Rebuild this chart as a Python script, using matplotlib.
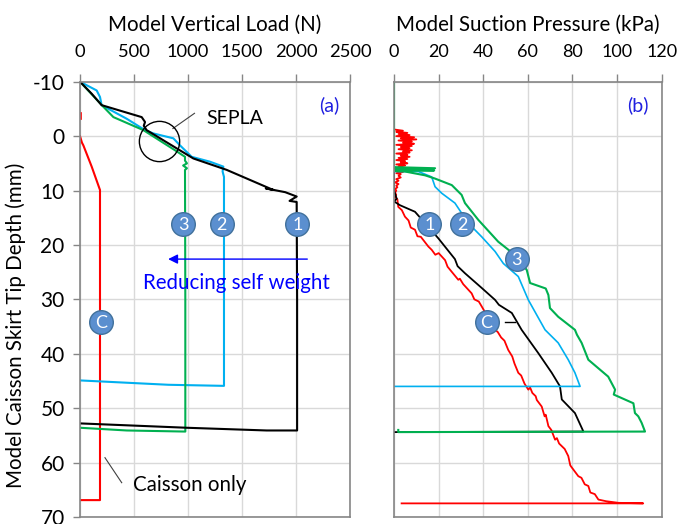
import matplotlib.pyplot as plt

plt.rcParams['font.family'] = ['Lato', 'DejaVu Sans']
plt.rcParams['axes.unicode_minus'] = False

# ---- (a) vertical load vs skirt tip depth ----
load_1 = [0, 108, 200, 571, 602, 590, 617, 1049, 1358, 1790, 1720, 1900, 2006, 1940, 2006, 2010, 2010, 1728, 988, 0]
depth_1 = [-10, -7.8, -5.7, -3.5, -2.6, -1.9, -1.1, 4.1, 6.2, 9.9, 9.6, 10.3, 11.1, 11.9, 12.1, 30, 54.1, 54.1, 53.6, 52.8]

load_2 = [0, 154, 185, 200, 432, 602, 679, 864, 926, 1034, 1204, 1327, 1320, 1333, 1333, 818, 0]
depth_2 = [-10, -8.4, -7.2, -5.7, -3.2, -1.1, -0.5, 0.4, 1.7, 3.8, 4.7, 5.6, 6.5, 7.5, 45.9, 45.7, 44.9]

load_3 = [0, 216, 309, 587, 880, 972, 972, 990, 955, 990, 972, 975, 975, 432, 0]
load_3_depth = [-10, -5.4, -3.5, -1.1, 2.6, 3.8, 4.5, 5.0, 5.4, 5.9, 6.2, 30, 54.3, 54.1, 53.6]

load_c = [0, 12, 18, 31, 108, 185, 185, 0]
depth_c = [0, 0.8, 1.2, 1.7, 5.6, 9.9, 66.9, 66.9]
load_c_blip = [5, 5]
depth_c_blip = [-4.2, -3.2]

# ---- (b) suction pressure vs skirt tip depth ----
suc_1 = [0, 0, 1.2, 0, 2.7, 9.4, 13.9, 19.9, 27.3, 28.5, 31.8, 39.3, 45.3, 47.0, 52.8, 57.2,
         64.7, 70.7, 74.4, 75.2, 81.1, 84.9, 0]
sdepth_1 = [-3, 10, 11.5, 12, 12.7, 13.9, 16.0, 18.8, 22.6, 23.9, 25.2, 27.9, 30.1, 31.0, 32.5, 35.6,
            39.9, 43.5, 46.0, 48.4, 50.9, 54.3, 54.4]

suc_2 = [0, 0.4, 10.9, 16.9, 18.4, 21.4, 27.3, 33.3, 39.3, 45.3, 49.0, 55.7, 60.2,
         67.7, 73.6, 78.1, 81.1, 83.4, 0]
sdepth_2 = [6.2, 6.5, 6.5, 7.5, 9.3, 10.5, 12.3, 16.0, 18.5, 21.2, 23.4, 25.8, 30.1,
            35.6, 38.0, 41.1, 43.5, 46.0, 46.0]

suc_3 = [0, 0, 0.4, 18.4, 0.4, 18.0, 0.4, 4.9, 13.9, 18.4, 25.9, 30.3, 31.0, 31.8, 37.8,
         46.7, 55.0, 59.5, 61.0, 68.0, 69.2, 69.9, 73.6, 81.1, 82.0, 84.1, 87.1, 96.0,
         99.1, 98.5, 107.3, 108.0, 109.5, 111.0, 112.5, 1.9, 1.9]
sdepth_3 = [-10, 5.5, 5.7, 5.9, 6.1, 6.3, 6.4, 6.5, 7.2, 7.8, 9.0, 10.8, 11.5, 12.3, 15.4,
            19.4, 22.1, 24.6, 27.0, 28.0, 29.2, 31.6, 33.2, 35.6, 36.5, 38.0, 41.1, 44.2,
            46.6, 47.5, 49.1, 50.9, 51.5, 52.7, 54.3, 54.4, 54.0]

suc_c = [0.5, 4, 1, 6, 2, 7, 1, 9, 3, 10, 2, 8, 4, 9, 1, 8, 3, 7, 2, 8, 4, 7, 1, 6, 3, 7,
         2, 6, 1, 5, 3, 6, 1, 5, 2, 4, 1, 5, 2, 4, 1, 3, 2, 3, 1, 2, 0.5, 2, 1, 1.5, 0.5,
         1, 0.5, 1, 0.5, 1.5,
         1.9, 3.5, 4.9, 6.5, 7.5, 9.4, 10.5, 12.0, 15.4, 16.9, 18.5, 20.0, 22.9, 24.0, 25.0,
         28.8, 29.5, 31.0, 34.8, 36.0, 38.0, 39.3, 41.0, 43.0, 45.3, 46.5, 48.0, 49.5, 51.2,
         53.0, 54.0, 55.7, 57.0, 58.5, 60.2, 61.0, 62.0, 63.5, 64.0, 66.2, 67.5, 68.0, 69.2,
         70.5, 72.2, 73.0, 74.0, 76.5, 78.1, 79.0, 79.5, 82.6, 84.0, 85.5, 87.1, 88.0, 90.0,
         91.6, 95.0, 100.6, 111.7, 3.4]
sdepth_c = [-1.2, -1.0, -0.8, -0.6, -0.4, -0.2, 0.0, 0.2, 0.4, 0.6, 0.8, 1.0, 1.2, 1.4, 1.6,
            1.8, 2.0, 2.2, 2.4, 2.6, 2.8, 3.0, 3.2, 3.4, 3.6, 3.8, 4.0, 4.2, 4.4, 4.6, 4.8,
            5.0, 5.2, 5.4, 5.6, 5.8, 6.0, 6.2, 6.4, 6.6, 6.8, 7.0, 7.3, 7.6, 7.9, 8.2, 8.5,
            8.8, 9.1, 9.4, 9.7, 10.0, 10.4, 10.8, 11.2, 11.6,
            13.0, 13.6, 14.8, 15.5, 16.8, 17.2, 18.4, 18.5, 20.3, 20.9, 21.8, 21.5, 22.8, 24.0, 24.5,
            26.4, 26.2, 27.2, 28.9, 30.0, 30.4, 31.3, 32.5, 33.2, 35.6, 36.0, 37.0, 37.6, 39.3,
            40.5, 41.8, 43.5, 44.0, 45.5, 46.6, 46.2, 47.2, 47.8, 48.5, 49.7, 51.5, 51.2, 53.3,
            54.0, 55.8, 55.5, 56.5, 57.5, 58.8, 60.5, 60.8, 62.5, 62.8, 64.0, 64.3, 65.5, 65.8,
            66.8, 67.1, 67.4, 67.5, 67.5]

# circled labels: (text, x, y)
marks_a = [('3', 957, 16.2), ('2', 1312, 16.2), ('1', 2012, 16.2), ('C', 191, 34.1)]
marks_b = [('1', 15.9, 16.2), ('2', 30.6, 16.2), ('3', 55.0, 22.6), ('C', 41.5, 34.1)]

RED = '#ff0000'
BLACK = '#000000'
CYAN = '#00b0f0'
GREEN = '#00b050'
FRAME = '#868686'
GRID = '#d9d9d9'
BUBBLE = '#5b8fcf'
BUBBLE_EDGE = '#41719c'

fig = plt.figure(figsize=(6.81, 5.24), dpi=100)
ax1 = fig.add_axes([0.1175, 0.0134, 0.3965, 0.8306])
ax2 = fig.add_axes([0.5786, 0.0134, 0.3931, 0.8306])


def style(ax, xmax, xstep, label, xsize):
    ax.set_xlim(0, xmax)
    ax.set_ylim(70, -10)
    ax.set_xticks(range(0, xmax + 1, xstep))
    ax.set_yticks(range(-10, 71, 10))
    ax.xaxis.tick_top()
    ax.xaxis.set_label_position('top')
    ax.set_xlabel(label, fontsize=14.8, labelpad=9)
    ax.tick_params(axis='x', direction='out', length=6, width=1, color=FRAME,
                   pad=10, labelsize=xsize)
    ax.tick_params(axis='y', direction='out', length=5, width=1, color=FRAME,
                   pad=6, labelsize=15)
    ax.grid(True, color=GRID, lw=1)
    ax.set_axisbelow(True)
    for s in ax.spines.values():
        s.set_color(FRAME)
        s.set_linewidth(1.2)


def bubble(ax, txt, x, y):
    ax.plot(x, y, 'o', ms=17, mfc=BUBBLE, mec=BUBBLE_EDGE, mew=1, zorder=5)
    ax.text(x, y + 0.2, txt, color='white', fontsize=13, ha='center', va='center', zorder=6)


style(ax1, 2500, 500, 'Model Vertical Load (N)', 13.2)
style(ax2, 120, 20, 'Model Suction Pressure (kPa)', 13)
ax1.set_ylabel('Model Caisson Skirt Tip Depth (mm)', fontsize=14.8)
ax1.yaxis.set_label_coords(-0.2, 0.44)
ax2.tick_params(axis='y', left=False, labelleft=False)

ax1.plot(load_c, depth_c, color=RED, lw=1.5)
ax1.plot(load_c_blip, depth_c_blip, color=RED, lw=1.2)
ax1.plot(load_2, depth_2, color=CYAN, lw=1.5)
ax1.plot(load_3, load_3_depth, color=GREEN, lw=1.5)
ax1.plot(load_1, depth_1, color=BLACK, lw=1.5)

ax2.plot(suc_c, sdepth_c, color=RED, lw=1.3)
ax2.plot(suc_1, sdepth_1, color=BLACK, lw=1.3)
ax2.plot(suc_2, sdepth_2, color=CYAN, lw=1.2)
ax2.plot(suc_3, sdepth_3, color=GREEN, lw=1.5)

for t, x, y in marks_a:
    bubble(ax1, t, x, y)
for t, x, y in marks_b:
    bubble(ax2, t, x, y)

# SEPLA ring and its leader
ax1.plot(731, 0.9, 'o', ms=29, mfc='none', mec='black', mew=1, zorder=6)
ax1.plot([860, 1060], [-1.4, -4.2], color='#404040', lw=0.8)
ax1.text(1170, -3.2, 'SEPLA', fontsize=14, va='center')
ax1.text(2400, -5.7, '(a)', fontsize=14, color='#2020e0', ha='right', va='center')
ax2.text(114, -5.7, '(b)', fontsize=14, color='#2020e0', ha='right', va='center')

# self weight reduction arrow
ax1.annotate('', xy=(790, 22.6), xytext=(2130, 22.6),
             arrowprops=dict(arrowstyle='-|>', color='#0000ff', lw=1, mutation_scale=14))
ax1.text(1451, 27.0, 'Reducing self weight', fontsize=14.8, color='#0000ff',
         ha='center', va='center')

ax1.plot([231, 386], [59.1, 63.7], color='#404040', lw=0.8)
ax1.text(494, 64.2, 'Caisson only', fontsize=14.8, va='center')

# small leader next to the C bubble in (b)
ax2.plot([49.8, 54.3], [34.1, 34.1], color=BLACK, lw=1)

fig.savefig('out.png', dpi=100)
